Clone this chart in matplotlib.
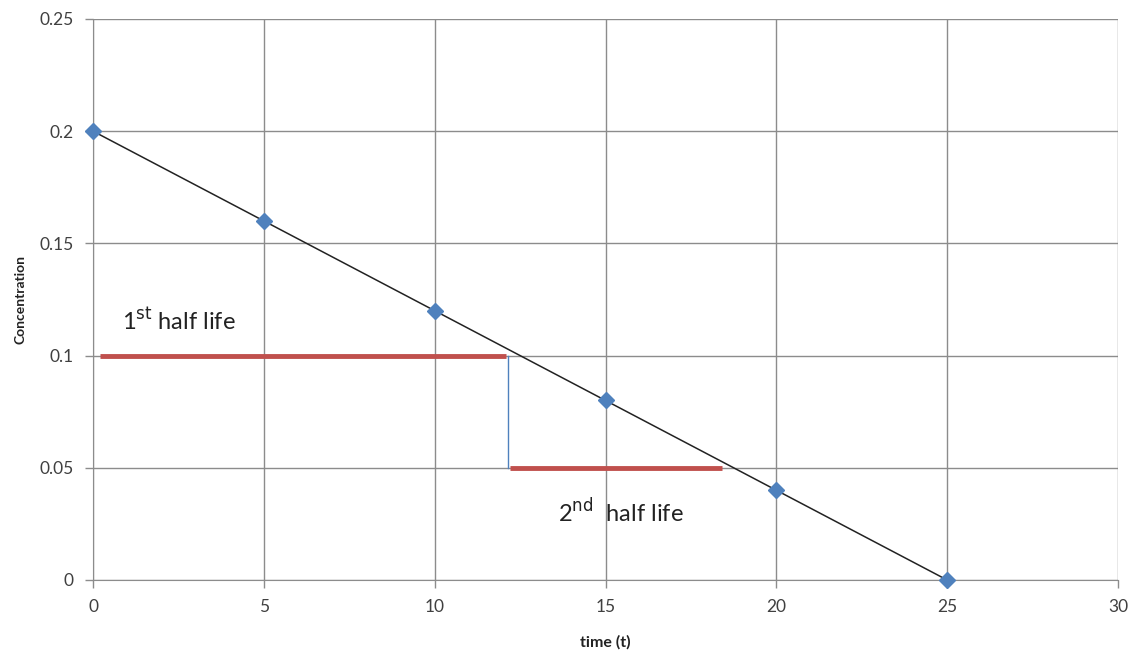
# half-life chart
import matplotlib.pyplot as plt

# datos
tiempo = [0, 5, 10, 15, 20, 25]
concentracion = [0.2, 0.16, 0.12, 0.08, 0.04, 0.0]

# lineas de vida media
vida1_x = [0.2, 12.1]
vida1_y = [0.1, 0.1]
vida2_x = [12.2, 18.4]
vida2_y = [0.05, 0.05]
vertical_x = [12.15, 12.15]
vertical_y = [0.1, 0.05]

plt.rcParams['font.family'] = ['Lato', 'DejaVu Sans']

fig = plt.figure(figsize=(11.32, 6.5), dpi=100)
ax = fig.add_axes([0.0822, 0.1077, 0.9054, 0.8631])

gris = '#8c8c8c'
ax.set_xlim(0, 30)
ax.set_ylim(0, 0.25)
ax.set_xticks([0, 5, 10, 15, 20, 25, 30])
ax.set_yticks([0, 0.05, 0.1, 0.15, 0.2, 0.25])
ax.set_yticklabels(['0', '0.05', '0.1', '0.15', '0.2', '0.25'])
ax.grid(True, color=gris, linewidth=1)
ax.set_axisbelow(True)
for lado in ['top', 'right']:
    ax.spines[lado].set_visible(False)
for lado in ['left', 'bottom']:
    ax.spines[lado].set_color(gris)
ax.tick_params(colors=gris, labelcolor='#404040', labelsize=12.5, length=6, width=1, pad=8)

# lineas rojas y azul
ax.plot(vida1_x, vida1_y, color='#c0504d', linewidth=3.5, solid_capstyle='butt', zorder=3)
ax.plot(vida2_x, vida2_y, color='#c0504d', linewidth=3.5, solid_capstyle='butt', zorder=3)
ax.plot(vertical_x, vertical_y, color='#4f81bd', linewidth=1, zorder=3)

# datos y linea
ax.plot(tiempo, concentracion, color='#222222', linewidth=1.1, zorder=4)
ax.plot(tiempo, concentracion, linestyle='none', marker='D', markersize=8,
        color='#4f81bd', clip_on=False, zorder=5)

ax.text(0.85, 0.1155, r'1$^{\mathrm{st}}$ half life', fontsize=17, color='#222222', va='center')
ax.text(13.6, 0.0305, r'2$^{\mathrm{nd}}$  half life', fontsize=17, color='#222222', va='center')

ax.set_xlabel('time (t)', fontsize=11.5, fontweight='bold', color='#222222', labelpad=14)
ax.set_ylabel('Concentration', fontsize=10, fontweight='bold', color='#222222', labelpad=9)

plt.savefig('out.png', dpi=100)
